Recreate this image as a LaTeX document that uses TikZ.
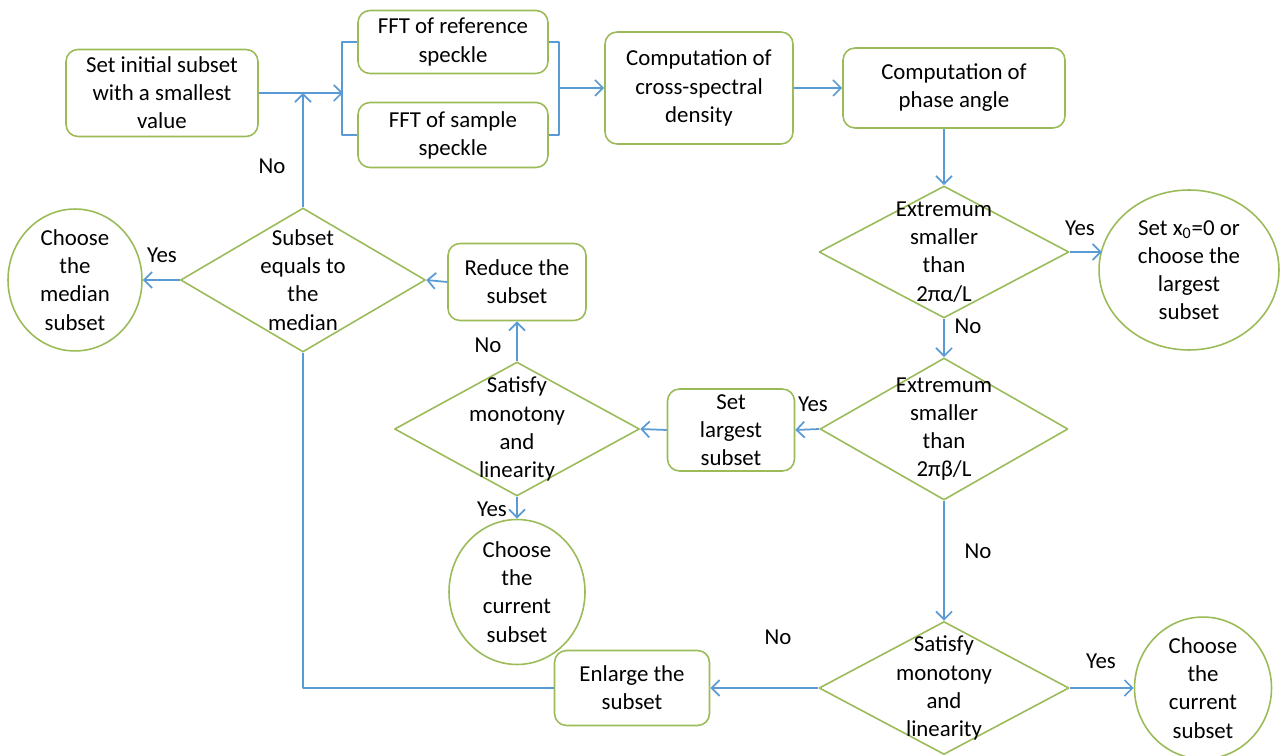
\documentclass[tikz,border=0pt]{standalone}
\usepackage{fontspec}
\setmainfont{Carlito}
\usetikzlibrary{shapes.geometric,arrows.meta}
\definecolor{boxgreen}{RGB}{155,187,89}
\definecolor{flowblue}{RGB}{91,155,213}
\tikzset{
  box/.style={draw=boxgreen, line width=0.9pt, rounded corners=2.4mm, align=center, inner sep=2pt},
  dia/.style={draw=boxgreen, line width=0.9pt, diamond, inner sep=0pt},
  oval/.style={draw=boxgreen, line width=0.9pt, ellipse, align=center, inner sep=0pt},
  flow/.style={flowblue, line width=1pt, ->},
  link/.style={flowblue, line width=1pt}
}
\begin{document}
\begin{tikzpicture}[x=0.02cm, y=-0.02cm, font=\fontsize{13}{16}\selectfont, >={Straight Barb[length=1.6mm,width=3.2mm]}, line join=round]
	\useasboundingbox (0,0) rectangle (1284,756);
	% top row
	\node[box, minimum width=3.84cm, minimum height=1.74cm] (init) at (162,93) {Set initial subset\\with a smallest\\value};
	\node[box, minimum width=3.8cm, minimum height=1.26cm] (fftref) at (453,42) {FFT of reference\\speckle};
	\node[box, minimum width=3.8cm, minimum height=1.3cm] (fftsam) at (453,135) {FFT of sample\\speckle};
	\node[box, minimum width=3.76cm, minimum height=2.24cm] (csd) at (699,88) {Computation of\\cross-spectral\\density};
	\node[box, minimum width=4.44cm, minimum height=1.6cm] (phase) at (954,88) {Computation of\\phase angle};
	\coordinate (lbr) at (343,93);
	\coordinate (rbr) at (558,88);
	% decisions
	\node[dia, minimum width=5cm, minimum height=2.64cm, label={[align=center]center:{Extremum\\smaller\\than\\2πα/L}}] (alpha) at (944,252) {};
	\node[oval, minimum width=3.6cm, minimum height=3.2cm] (zero) at (1189,270) {Set x\textsubscript{0}=0 or\\choose the\\largest\\subset};
	\node[dia, minimum width=4.96cm, minimum height=2.84cm, label={[align=center]center:{Extremum\\smaller\\than\\2πβ/L}}] (beta) at (944,429) {};
	\node[box, minimum width=2.54cm, minimum height=1.64cm] (largest) at (731,430) {Set\\largest\\subset};
	\node[dia, minimum width=4.9cm, minimum height=2.68cm, label={[align=center]center:{Satisfy\\monotony\\and\\linearity}}] (mono1) at (517,429) {};
	\node[box, minimum width=2.76cm, minimum height=1.54cm] (reduce) at (517,282) {Reduce the\\subset};
	\node[dia, minimum width=4.9cm, minimum height=2.88cm, label={[align=center]center:{Subset\\equals to\\the\\median}}] (median) at (303,280) {};
	\node[oval, minimum width=2.68cm, minimum height=2.78cm] (choosemed) at (75,280) {Choose\\the\\median\\subset};
	\node[oval, minimum width=2.72cm, minimum height=2.9cm] (choosecur1) at (517,592) {Choose\\the\\current\\subset};
	\node[dia, minimum width=5cm, minimum height=2.66cm, label={[align=center]center:{Satisfy\\monotony\\and\\linearity}}] (mono2) at (944,688) {};
	\node[box, minimum width=3.1cm, minimum height=1.5cm] (enlarge) at (632,688) {Enlarge the\\subset};
	\node[oval, minimum width=2.74cm, minimum height=2.76cm] (choosecur2) at (1203,688) {Choose\\the\\current\\subset};
	% connectors
	\draw[flow] (init) -- (lbr);
	\draw[link] (fftref.west) -- ++(-15,0) |- (fftsam.west);
	\draw[link] (fftref.east) -- ++(10,0) |- (fftsam.east);
	\draw[flow] (rbr) -- (csd);
	\draw[flow] (csd) -- (phase);
	\draw[flow] (alpha.north |- phase.south) -- (alpha.north);
	\draw[flow] (alpha.east) -- ([xshift=2pt]zero.west |- alpha.east);
	\draw[flow] (alpha.south) -- (beta.north);
	\draw[flow] (beta.west) -- (largest.east);
	\draw[flow] (largest.west) -- (mono1.east);
	\draw[flow] (mono1.north) -- (reduce.south);
	\draw[flow] (reduce.west) -- (median.east);
	\draw[flow] (median.west) -- (choosemed.east);
	\draw[flow] (median.north) -- (median.north |- init.east);
	\draw[flow] (mono1.south) -- (choosecur1.north);
	\draw[flow] (beta.south) -- (mono2.north);
	\draw[flow] (mono2.west) -- (enlarge.east);
	\draw[flow] (mono2.east) -- (choosecur2.west);
	\draw[link] (enlarge.west) -| (median.south);
	% branch labels
	\node (no1) at (272,166) {No};
	\node (yes1) at (1080,228) {Yes};
	\node (no2) at (968,326) {No};
	\node (yes2) at (813,404) {Yes};
	\node (no3) at (488,345) {No};
	\node (yes3) at (162,255) {Yes};
	\node (yes4) at (492,509) {Yes};
	\node (no4) at (978,551) {No};
	\node (no5) at (778,637) {No};
	\node (yes5) at (1101,661) {Yes};
\end{tikzpicture}
\end{document}
